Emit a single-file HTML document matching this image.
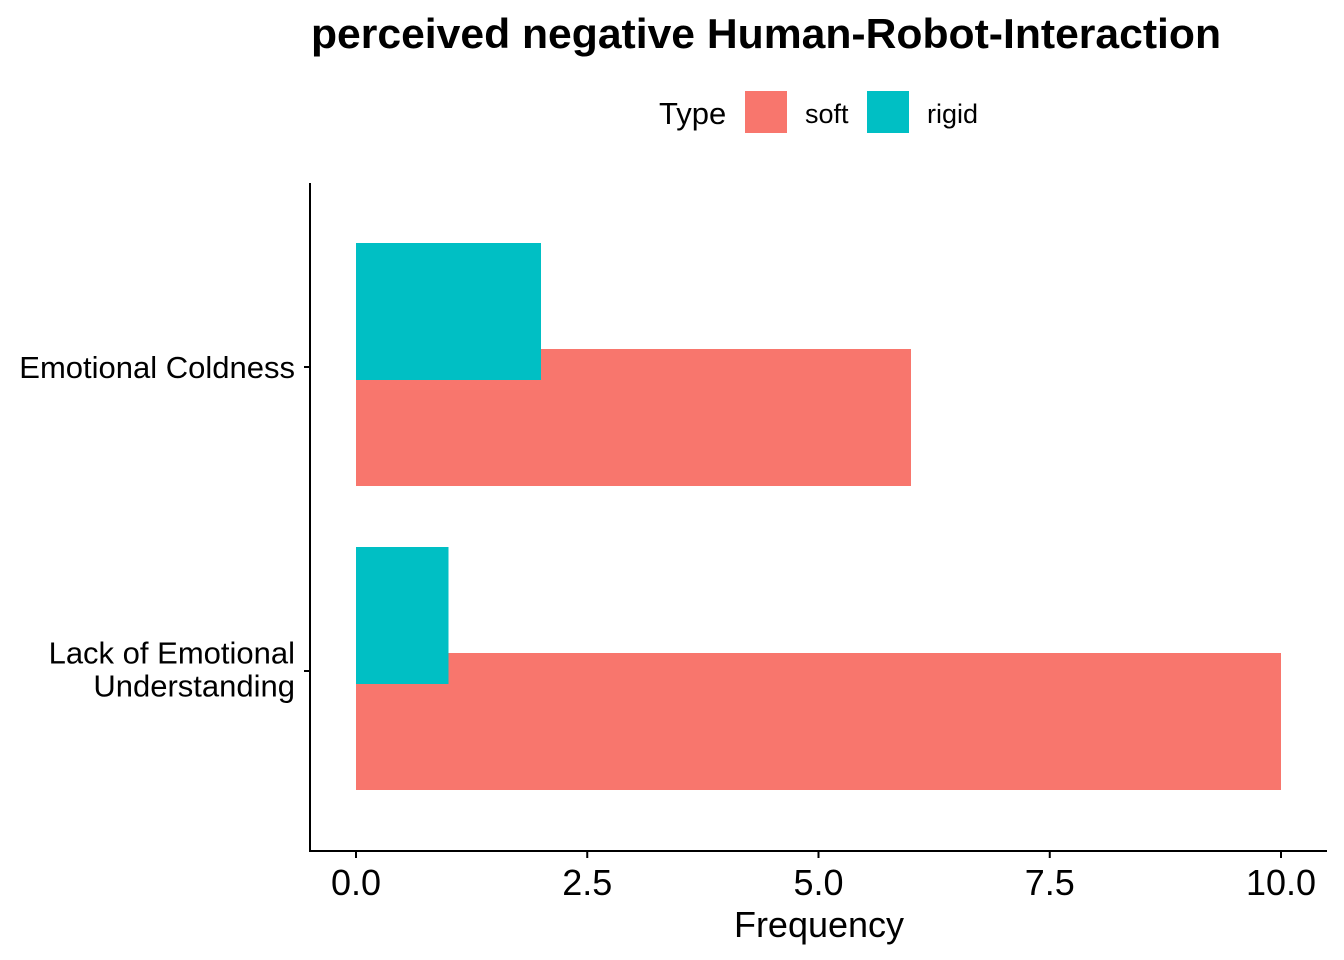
<!DOCTYPE html>
<html><head><meta charset="utf-8"><style>
html,body{margin:0;padding:0;background:#fff;}
svg{display:block;font-family:"Liberation Sans",Arial,sans-serif;}
</style></head><body>
<svg id="chart" width="1344" height="960">
<text x="766" y="48" text-anchor="middle" font-size="42" font-weight="bold" textLength="910" lengthAdjust="spacingAndGlyphs">perceived negative Human-Robot-Interaction</text>
<g>
<text x="659" y="124" font-size="31">Type</text>
<rect x="745" y="91" width="42" height="42" fill="#F8766D"/>
<text x="805" y="123" font-size="27">soft</text>
<rect x="867" y="91" width="42" height="42" fill="#00BFC4"/>
<text x="927" y="123" font-size="27">rigid</text>
</g>
<g id="marks"></g>
<line x1="310" y1="183" x2="310" y2="852" stroke="#000" stroke-width="2"/>
<line x1="309" y1="851" x2="1327" y2="851" stroke="#000" stroke-width="2"/>
<g id="axes"></g>
<text x="819" y="937" text-anchor="middle" font-size="36">Frequency</text>
</svg>
<script>
const categories = ["Emotional Coldness", "Lack of Emotional\nUnderstanding"];
const softValues = [6, 10];
const rigidValues = [2, 1];
const xTicks = [0, 2.5, 5, 7.5, 10];
const xTickLabels = ["0.0", "2.5", "5.0", "7.5", "10.0"];

const NS = "http://www.w3.org/2000/svg";
const x = v => 356 + v * 92.5;
const yc = i => 367 + i * 304;
const marks = document.getElementById("marks");
const axes = document.getElementById("axes");
function mk(tag, attrs, parent){const e=document.createElementNS(NS,tag);for(const k in attrs)e.setAttribute(k,attrs[k]);parent.appendChild(e);return e;}

categories.forEach((c,i)=>{
  const s = mk("rect",{x:x(0),y:yc(i)-18,width:x(softValues[i])-x(0),height:137,fill:"#F8766D"},marks);
  
  
});
categories.forEach((c,i)=>{
  const r = mk("rect",{x:x(0),y:yc(i)-124,width:x(rigidValues[i])-x(0),height:137,fill:"#00BFC4"},marks);
  
  
});
categories.forEach((c,i)=>{
  const t = mk("line",{x1:304,x2:310,y1:yc(i),y2:yc(i),stroke:"#000","stroke-width":2},axes);
  
  
  const lines = c.split("\n");
  const lbl = mk("text",{x:295,"text-anchor":"end","font-size":31},axes);
  
  
  lines.forEach((ln,j)=>{
    const ts = mk("tspan",{x:295,y:yc(i)+11+(j-(lines.length-1)/2)*33 - (lines.length>1?2:0)},lbl);
    ts.textContent = ln;
  });
});
xTicks.forEach((v,i)=>{
  const t = mk("line",{x1:x(v),x2:x(v),y1:851,y2:858,stroke:"#000","stroke-width":2},axes);
  
  
  const l = mk("text",{x:x(v),y:895,"text-anchor":"middle","font-size":36},axes);
  
  
  l.textContent = xTickLabels[i];
});
</script>
</body></html>
